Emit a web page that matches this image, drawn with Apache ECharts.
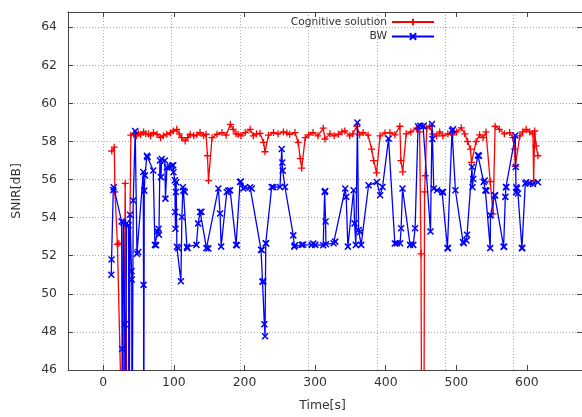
<!DOCTYPE html>
<html>
<head>
<meta charset="utf-8">
<script src="https://cdn.jsdelivr.net/npm/echarts@6/dist/echarts.min.js"></script>
<style>
html,body{margin:0;padding:0;background:#fff;}
#c{width:582px;height:417px;}
</style>
</head>
<body>
<div id="c"></div>
<script>
// Tick labels
const xTicks = [0, 100, 200, 300, 400, 500, 600];
const yTicks = [46, 48, 50, 52, 54, 56, 58, 60, 62, 64];
const seriesNames = ['Cognitive solution', 'BW'];

// Cognitive solution (time, SNIR); values below 46 are off the chart
const cogT = [12,15.5,16.5,20,22,28,31,34,39,43,47,49.5,53,57,60,64,67,71,76,81,85,90,95,99,104,107.5,111,116,119.5,123,128,132.5,137,142,145.5,147.5,149,154,161,168,174,180,184,188,191,195,201,208,212.5,217,222,227,229,234,241,247.5,255,260,264,271.5,276,279,281,286,291,297,304,311.5,314,321,327,333,338,342,349,353.5,359,363,368,375,380,383,387,392,399,406,413,420,421.5,424,429,435.5,443.5,448,450,451,454,455,456,458,462,466.5,472,476.5,481,488,495,500.5,507,512,516,520,521.5,528,533,538,542,548,552,555,561,568,575.5,580,582.5,583.5,590,594,599,604,608.5,609.5,611,613,615.5];
const cogV = [57.5,57.7,55.35,52.6,52.66,40,55.8,40,58.33,58.38,58.3,58.45,58.35,58.5,58.4,58.4,58.3,58.47,58.38,58.2,58.3,58.38,58.45,58.55,58.64,58.4,58.2,58.03,58.2,58.38,58.3,58.35,58.47,58.3,58.38,57.25,55.95,58.2,58.38,58.47,58.33,58.9,58.64,58.4,58.38,58.3,58.47,58.64,58.3,58.4,58.43,57.95,57.46,58.33,58.47,58.4,58.5,58.45,58.38,58.47,57.95,57.1,56.6,58.2,58.35,58.47,58.3,58.7,58.13,58.4,58.3,58.38,58.5,58.55,58.3,58.4,58.8,58.35,58.47,58.33,57.6,57.0,56.35,58.3,58.45,58.47,58.35,58.8,57.0,56.4,58.4,58.5,58.7,58.5,52.1,40,40,55.35,56.2,58.7,58.8,58.4,58.3,58.5,58.3,58.4,58.35,58.5,58.72,58.4,58.0,57.6,56.9,58.0,58.35,58.2,58.5,55.9,54.2,58.8,58.64,58.4,58.47,58.2,57.6,56.7,58.3,58.5,58.64,58.5,58.4,55.95,58.55,57.77,57.25];

// BW (time, SNIR)
const bwT = [11.3,11.7,14.1,14.8,25.9,26.6,27.1,28.3,30.4,31.1,32.9,35.8,36.5,37.8,40.0,40.3,40.6,42.4,45.2,47.7,49.5,56.6,57.0,57.3,58.0,59.0,61.8,62.6,70.7,73.1,74.9,76.8,78.2,78.8,80.2,81.6,82.7,87.2,88.0,90.1,94.3,97.1,99.0,99.4,101.4,101.8,102.2,102.8,103.2,104.2,106.1,109.9,111.3,112.7,113.5,115.5,118.4,119.2,131.9,134.3,137.2,139.0,146.1,148.9,163.0,165.4,166.9,174.9,177.2,179.6,188.1,189.1,193.7,194.7,198.4,200.8,207.9,210.3,223.4,224.4,225.5,226.7,228.1,229.1,230.1,230.5,238.5,240.8,250.3,252.7,253.5,254.1,257.3,269.1,270.5,271.5,281.0,283.2,295.1,297.4,300.2,311.5,313.5,314.3,314.8,315.3,326.2,328.5,342.6,344.0,346.4,354.5,355.9,357.7,359.9,361.6,363.4,365.2,375.7,387.4,392.1,395.5,404.0,412.9,415.7,420.4,421.8,423.8,434.5,439.0,441.6,445.8,449.2,452.9,453.9,463.4,465.6,466.2,468.0,472.7,479.8,481.2,487.4,488.2,493.9,495.3,498.7,509.5,510.5,514.3,515.2,522.2,522.9,523.9,530.7,532.1,538.7,540.1,541.1,542.6,548.0,548.4,554.3,555.0,567.0,567.7,569.4,570.3,570.8,583.6,584.1,584.6,585.0,585.9,587.3,592.9,593.5,597.7,599.1,603.8,608.5,615.5];
const bwV = [51.0,51.8,55.45,55.6,53.8,47.1,40,53.75,48.4,40,53.7,53.6,40,54.15,51.2,50.75,40,54.9,58.55,52.1,52.2,56.4,50.47,40,55.42,56.22,57.25,57.18,56.48,52.57,52.55,53.27,53.42,53.1,57.0,56.13,57.08,57.0,55.0,56.64,56.66,56.73,56.75,56.38,55.96,54.3,53.42,55.35,55.86,52.47,52.4,50.66,54.03,55.6,55.42,55.35,52.47,52.4,52.57,53.7,54.3,54.31,52.4,52.38,55.53,54.22,52.48,55.35,55.42,55.44,52.57,52.55,55.87,55.9,55.53,55.6,55.6,55.53,52.31,52.3,50.64,50.66,48.4,47.77,52.66,52.64,55.61,55.6,55.61,57.61,56.9,56.47,55.61,53.07,52.48,52.55,52.57,52.59,52.57,52.64,52.57,52.55,55.35,55.4,53.8,52.6,52.66,52.74,55.53,55.09,52.48,55.44,53.7,52.57,59.0,53.35,53.25,52.57,55.7,55.87,55.18,55.61,58.15,52.64,52.66,52.66,53.44,55.53,52.57,52.57,53.44,58.8,58.83,58.8,58.83,53.27,58.92,58.13,55.53,55.44,55.35,55.34,52.41,52.4,58.57,58.64,55.44,52.72,52.66,52.8,53.1,56.66,55.6,56.03,57.27,57.25,55.87,55.95,55.44,55.42,52.4,54.12,55.18,55.16,52.48,52.47,55.09,55.61,55.6,58.31,56.66,55.34,55.6,55.53,55.27,52.4,52.41,55.79,55.86,55.8,55.77,55.86];

const cogData = cogT.map((t, i) => [t, cogV[i]]);
const bwData = bwT.map((t, i) => [t, bwV[i]]);

const FONT = 'DejaVu Sans';
const TXT = '#333';
const AX = '#444';
const Y_MIN = 46, Y_MAX = 64.8;
const X_MIN = -50, X_MAX = 678;
const GRID_COLOR = '#aaa';

// main plot box
const G = {left: 68, top: 12, width: 514.8, height: 360.3};
const pxPerUnit = G.width / (X_MAX - X_MIN);
// second grid, same scale, starting at x = 0, used only for the vertical split lines
const GRID_X_MAX = 700;
const G2 = {left: G.left + (0 - X_MIN) * pxPerUnit, top: G.top,
            width: GRID_X_MAX * pxPerUnit, height: G.height};

const chart = echarts.init(document.getElementById('c'), null, {renderer: 'canvas'});

const xBase = {
  type: 'value', min: X_MIN, max: X_MAX, gridIndex: 0,
  axisLine: {show: true, onZero: false, lineStyle: {color: AX, width: 1}},
  axisTick: {show: true, inside: true, length: 5, customValues: xTicks, lineStyle: {color: AX}},
  splitLine: {show: false}
};
const yBase = {
  type: 'value', min: Y_MIN, max: Y_MAX, interval: 2, gridIndex: 0,
  axisLine: {show: true, onZero: false, lineStyle: {color: AX, width: 1}},
  axisTick: {show: true, inside: true, length: 5, customValues: yTicks, lineStyle: {color: AX}}
};

chart.setOption({
  animation: false,
  backgroundColor: '#fff',
  grid: [
    Object.assign({containLabel: false, z: 2}, G),
    Object.assign({containLabel: false, z: 0}, G2)
  ],
  legend: [
    {data: [seriesNames[0]], right: 147, top: 16.5, padding: 0, align: 'right', orient: 'vertical',
     itemWidth: 42, itemHeight: 8, textStyle: {fontFamily: FONT, fontSize: 10.7, color: TXT}},
    {data: [seriesNames[1]], right: 147, top: 31, padding: 0, align: 'right', orient: 'vertical',
     itemWidth: 42, itemHeight: 8, textStyle: {fontFamily: FONT, fontSize: 10.7, color: TXT}}
  ],
  xAxis: [
    Object.assign({}, xBase, {
      position: 'bottom',
      name: 'Time[s]', nameLocation: 'middle', nameGap: 30,
      nameTextStyle: {fontFamily: FONT, fontSize: 12.4, color: TXT, padding: [0, 5, 0, 0]},
      axisLabel: {show: true, customValues: xTicks, margin: 7, fontFamily: FONT, fontSize: 12.4, color: TXT}
    }),
    Object.assign({}, xBase, {
      position: 'top',
      axisLabel: {show: false}
    }),
    {
      // split-line axis: ticks naturally at 0, 100, ..., 600
      type: 'value', gridIndex: 1, min: 0, max: GRID_X_MAX, interval: 100, position: 'bottom',
      axisLine: {show: false}, axisTick: {show: false}, axisLabel: {show: false},
      splitLine: {show: true, showMinLine: true, lineStyle: {color: GRID_COLOR, type: [1, 2], width: 1}},
      z: 0
    }
  ],
  yAxis: [
    Object.assign({}, yBase, {
      position: 'left',
      name: 'SNIR[dB]', nameLocation: 'middle', nameGap: 45, nameRotate: 90,
      nameTextStyle: {fontFamily: FONT, fontSize: 12.4, color: TXT},
      axisLabel: {show: true, customValues: yTicks, margin: 11, fontFamily: FONT, fontSize: 12.4, color: TXT},
      splitLine: {show: true, lineStyle: {color: GRID_COLOR, type: [1, 2], width: 1}}
    }),
    Object.assign({}, yBase, {
      position: 'right',
      axisLabel: {show: false},
      splitLine: {show: false}
    }),
    {
      type: 'value', gridIndex: 1, min: Y_MIN, max: Y_MAX,
      axisLine: {show: false}, axisTick: {show: false}, axisLabel: {show: false},
      splitLine: {show: false}
    }
  ],
  series: [
    {
      // empty helper series so the split-line grid is laid out
      name: 'gridHelper', type: 'line', xAxisIndex: 2, yAxisIndex: 2, data: [],
      silent: true, showSymbol: false, z: 0
    },
    {
      name: seriesNames[0], type: 'line', xAxisIndex: 0, yAxisIndex: 0,
      data: cogData, clip: true, showSymbol: true,
      symbol: 'path://M5,0L5,10M0,5L10,5', symbolSize: 7,
      lineStyle: {color: '#ff0000', width: 1.3},
      itemStyle: {color: '#ff0000', borderColor: '#ff0000', borderWidth: 1.3},
      z: 2
    },
    {
      name: seriesNames[1], type: 'line', xAxisIndex: 0, yAxisIndex: 0,
      data: bwData, clip: true, showSymbol: true,
      symbol: 'path://M0,0L10,10M10,0L0,10', symbolSize: 6,
      lineStyle: {color: '#0000ff', width: 1.3},
      itemStyle: {color: '#0000ff', borderColor: '#0000ff', borderWidth: 1.5},
      z: 3
    }
  ]
});
</script>
</body>
</html>
